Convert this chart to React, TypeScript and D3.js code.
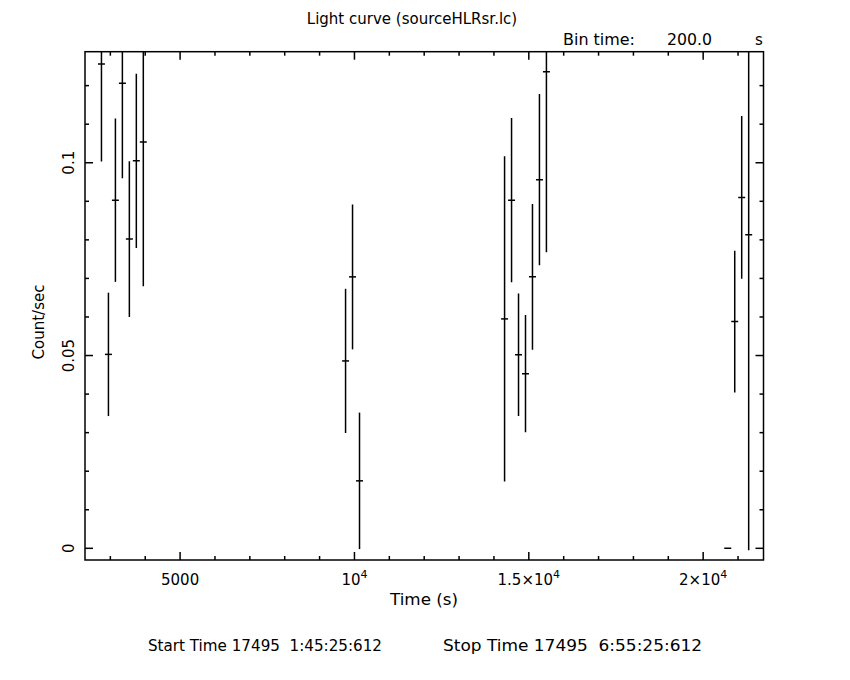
import React from "react";
import * as d3 from "d3";

const times = [2745, 2945, 3145, 3345, 3545, 3745, 3945, 9745, 9945, 10145, 14305, 14505, 14705, 14905, 15105, 15305, 15505, 20705, 20905, 21105, 21305];
const rates = [0.1256, 0.0503, 0.0903, 0.1206, 0.0802, 0.1005, 0.1054, 0.0486, 0.0704, 0.0175, 0.0595, 0.0903, 0.0502, 0.0453, 0.0704, 0.0956, 0.1236, 0, 0.0588, 0.091, 0.0813];
const errors = [0.0253, 0.016, 0.0212, 0.0246, 0.0202, 0.0226, 0.0374, 0.0187, 0.0188, 0.0177, 0.0422, 0.0213, 0.0159, 0.0152, 0.0189, 0.0222, 0.0468, 0, 0.0184, 0.0211, 0.0818];
const binTime = 200;

const xMajorTicks = [5000, 10000, 15000, 20000];
const xMajorLabels = [["5000", ""], ["10", "4"], ["1.5\u00d710", "4"], ["2\u00d710", "4"]];
const yMajorTicks = [0, 0.05, 0.1];
const yMajorLabels = ["0", "0.05", "0.1"];

const title = "Light curve (sourceHLRsr.lc)";
const xLabel = "Time (s)";
const yLabel = "Count/sec";
const footerStart = "Start Time 17495  1:45:25:612";
const footerStop = "Stop Time 17495  6:55:25:612";

const L = 85, R = 763.5, T = 51.7, B = 560;
const FONT = "'DejaVu Sans', sans-serif";

export default function App() {
  const x = d3.scaleLinear().domain([2273, 21730]).range([L, R]);
  const y = d3.scaleLinear().domain([-0.00303, 0.1288]).range([B, T]);
  const xMinor = d3.range(3000, 22000, 1000).filter((t) => t % 5000 !== 0);
  const yMinor = d3.range(0, 13).map((i) => i / 100).filter((v) => Math.abs((v * 100) % 5) > 1e-6);
  const sw = 1.5;
  const major = 8, minor = 4;
  return (
    <svg width={850} height={680} style={{ position: "absolute", left: 0, top: 0, background: "#fff" }} fontFamily={FONT}>
      <defs>
        <clipPath id="plotclip">
          <rect x={L} y={T} width={R - L} height={B - T} />
        </clipPath>
      </defs>
      <rect x={0} y={0} width={850} height={680} fill="#fff" />
      <g stroke="#000" strokeWidth={sw} fill="none">
        <rect x={L} y={T} width={R - L} height={B - T} />
        {xMajorTicks.map((t) => (
          <g key={"xM" + t}>
            <line x1={x(t)} x2={x(t)} y1={B} y2={B - major} />
            <line x1={x(t)} x2={x(t)} y1={T} y2={T + major} />
          </g>
        ))}
        {xMinor.map((t) => (
          <g key={"xm" + t}>
            <line x1={x(t)} x2={x(t)} y1={B} y2={B - minor} />
            <line x1={x(t)} x2={x(t)} y1={T} y2={T + minor} />
          </g>
        ))}
        {yMajorTicks.map((v) => (
          <g key={"yM" + v}>
            <line x1={L} x2={L + major} y1={y(v)} y2={y(v)} />
            <line x1={R} x2={R - major} y1={y(v)} y2={y(v)} />
          </g>
        ))}
        {yMinor.map((v) => (
          <g key={"ym" + v}>
            <line x1={L} x2={L + minor} y1={y(v)} y2={y(v)} />
            <line x1={R} x2={R - minor} y1={y(v)} y2={y(v)} />
          </g>
        ))}
        <g clipPath="url(#plotclip)">
          {times.map((t, i) => (
            <g key={"p" + i}>
              <line x1={x(t - binTime / 2)} x2={x(t + binTime / 2)} y1={y(rates[i])} y2={y(rates[i])} />
              {errors[i] > 0 && (
                <line x1={x(t)} x2={x(t)} y1={y(rates[i] - errors[i])} y2={y(rates[i] + errors[i])} />
              )}
            </g>
          ))}
        </g>
      </g>
      <g fill="#000" fontSize={15}>
        <text x={412} y={24} textAnchor="middle">{title}</text>
        <text x={563} y={45} textLength={72} lengthAdjust="spacingAndGlyphs">Bin time:</text>
        <text x={667} y={45} textLength={45} lengthAdjust="spacingAndGlyphs">200.0</text>
        <text x={755} y={45}>s</text>
        {xMajorTicks.map((t, i) => (
          <text key={"xl" + t} x={x(t)} y={585} textAnchor="middle">
            {xMajorLabels[i][0]}
            {xMajorLabels[i][1] && (
              <tspan dy={-7} fontSize={11}>{xMajorLabels[i][1]}</tspan>
            )}
          </text>
        ))}
        {yMajorTicks.map((v, i) => (
          <text key={"yl" + v} transform={`translate(${74},${y(v)}) rotate(-90)`} textAnchor="middle">
            {yMajorLabels[i]}
          </text>
        ))}
        <text x={390} y={605} textLength={68} lengthAdjust="spacingAndGlyphs">{xLabel}</text>
        <text transform={`translate(44,322) rotate(-90)`} textAnchor="middle">{yLabel}</text>
        <text x={148} y={651} xmlSpace="preserve" textLength={234} lengthAdjust="spacingAndGlyphs">{footerStart}</text>
        <text x={443} y={651} xmlSpace="preserve" textLength={259} lengthAdjust="spacingAndGlyphs">{footerStop}</text>
      </g>
    </svg>
  );
}
